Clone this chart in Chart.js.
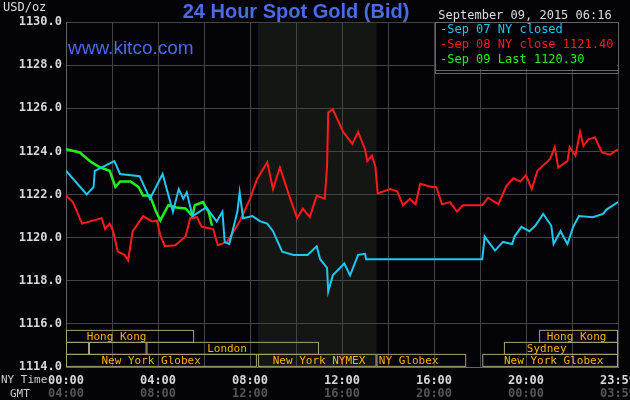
<!DOCTYPE html>
<html>
<head>
<meta charset="utf-8">
<script src="https://cdn.jsdelivr.net/npm/chart.js@4"></script>
<style>
  body { margin: 0; background: #040307; }
  #wrap { width: 630px; height: 400px; }
</style>
</head>
<body>
<div id="wrap"><canvas id="goldChart"></canvas></div>
<script>
// hours after 00:00 NY time, and price
const sep07Hours = [0, 0.9, 1.2, 1.25, 2.1, 2.35, 3.2, 3.65, 4.2, 4.65, 4.9, 5.1, 5.25, 5.5, 6.1, 6.55, 6.8, 6.9, 7.1, 7.45, 7.55, 7.7, 8.1, 8.45, 8.75, 9.0, 9.4, 9.9, 10.5, 10.9, 11.05, 11.35, 11.4, 11.6, 12.1, 12.35, 12.7, 13.0, 13.05, 18.1, 18.2, 18.65, 19.0, 19.4, 19.5, 19.8, 20.15, 20.4, 20.75, 21.1, 21.2, 21.5, 21.8, 22.05, 22.3, 22.9, 23.35, 23.5, 24];
const sep07Values = [1123.1, 1122.0, 1122.35, 1123.1, 1123.55, 1122.95, 1122.85, 1121.8, 1122.95, 1121.2, 1122.25, 1121.8, 1122.1, 1121.0, 1121.4, 1120.75, 1121.2, 1119.8, 1119.7, 1121.2, 1122.1, 1120.9, 1121.0, 1120.75, 1120.65, 1120.3, 1119.35, 1119.2, 1119.2, 1119.6, 1119.0, 1118.6, 1117.5, 1118.25, 1118.8, 1118.25, 1119.2, 1119.25, 1119.0, 1119.0, 1120.05, 1119.4, 1119.8, 1119.7, 1120.05, 1120.5, 1120.3, 1120.55, 1121.1, 1120.55, 1119.7, 1120.3, 1119.7, 1120.5, 1121.0, 1120.95, 1121.1, 1121.3, 1121.65];

const sep08Hours = [0, 0.3, 0.7, 1.2, 1.55, 1.7, 1.9, 2.05, 2.25, 2.55, 2.7, 2.9, 3.35, 3.75, 3.95, 4.1, 4.3, 4.75, 5.2, 5.4, 5.7, 5.9, 6.4, 6.6, 7.0, 7.55, 8.0, 8.3, 8.75, 9.0, 9.3, 9.75, 10.05, 10.3, 10.6, 10.9, 11.25, 11.35, 11.4, 11.6, 12.05, 12.45, 12.7, 13.0, 13.1, 13.3, 13.45, 13.55, 14.1, 14.4, 14.65, 14.95, 15.2, 15.4, 15.9, 16.1, 16.35, 16.7, 17.0, 17.25, 18.1, 18.35, 18.8, 19.15, 19.45, 19.75, 20.0, 20.25, 20.5, 21.05, 21.25, 21.4, 21.8, 21.9, 22.15, 22.35, 22.5, 22.7, 23.0, 23.3, 23.65, 24];
const sep08Values = [1121.95, 1121.65, 1120.65, 1120.8, 1120.9, 1120.4, 1120.65, 1120.3, 1119.35, 1119.2, 1118.95, 1120.3, 1121.0, 1120.75, 1120.8, 1120.1, 1119.6, 1119.65, 1120.05, 1120.9, 1120.95, 1120.5, 1120.4, 1119.65, 1119.8, 1120.75, 1121.8, 1122.7, 1123.5, 1122.25, 1123.25, 1121.8, 1120.9, 1121.35, 1120.95, 1121.95, 1121.8, 1123.3, 1125.8, 1125.95, 1124.9, 1124.35, 1124.9, 1124.1, 1123.55, 1123.8, 1123.3, 1122.05, 1122.25, 1122.15, 1121.5, 1121.8, 1121.55, 1122.5, 1122.35, 1122.35, 1121.55, 1121.65, 1121.2, 1121.5, 1121.5, 1121.85, 1121.55, 1122.4, 1122.75, 1122.6, 1122.9, 1122.25, 1123.1, 1123.65, 1124.2, 1123.25, 1123.55, 1124.2, 1123.8, 1124.9, 1124.25, 1124.55, 1124.65, 1123.95, 1123.85, 1124.1];

const sep09Hours = [0, 0.6, 1.1, 1.5, 1.9, 2.15, 2.35, 2.8, 3.15, 3.35, 3.65, 3.9, 4.1, 4.45, 4.8, 5.2, 5.5, 5.6, 5.95, 6.2, 6.35];
const sep09Values = [1124.1, 1123.95, 1123.5, 1123.25, 1123.1, 1122.35, 1122.6, 1122.6, 1122.35, 1121.95, 1121.95, 1121.25, 1120.8, 1121.5, 1121.4, 1121.35, 1121.0, 1121.5, 1121.65, 1121.2, 1120.55];

const nyLabels = ['00:00', '04:00', '08:00', '12:00', '16:00', '20:00', '23:59'];
const gmtLabels = ['04:00', '08:00', '12:00', '16:00', '20:00', '00:00', '03:59'];
const legendLines = [
  ['Sep 07 NY closed', '#1ec8f0'],
  ['Sep 08 NY close 1121.40', '#ff1a1a'],
  ['Sep 09 Last 1120.30', '#22ee22']
];
// [row, startHour, endHour, label, labelHour, align]
const markets = [
  [0, 0, 5.57, 'Hong Kong', 2.2, 'center'],
  [0, 20.57, 24, 'Hong Kong', 22.2, 'center'],
  [1, 0, 1.0, '', 0, 'center'],
  [1, 1.0, 3.5, '', 0, 'center'],
  [1, 3.5, 11.0, 'London', 7.0, 'center'],
  [1, 19.04, 24, 'Sydney', 20.9, 'center'],
  [2, 0, 8.3, 'New York Globex', 3.7, 'center'],
  [2, 8.35, 13.5, 'New York NYMEX', 11.0, 'center'],
  [2, 13.5, 17.4, 'NY Globex', 13.6, 'left'],
  [2, 18.1, 24, 'New York Globex', 21.2, 'center']
];
const nymexShade = [8.35, 13.5];

const mono = '"DejaVu Sans Mono", monospace';
const toPts = (hs, vs) => hs.map((h, i) => ({ x: h, y: vs[i] }));

const backdrop = {
  id: 'backdrop',
  beforeDraw(c) {
    const { ctx, chartArea: a, scales: { x } } = c;
    ctx.save();
    ctx.fillStyle = '#040307';
    ctx.fillRect(0, 0, c.width, c.height);
    ctx.fillStyle = '#141614';
    ctx.fillRect(x.getPixelForValue(nymexShade[0]), a.top, x.getPixelForValue(nymexShade[1]) - x.getPixelForValue(nymexShade[0]), a.bottom - a.top);
    ctx.restore();
  },
  afterDatasetsDraw(c) {
    const { ctx, chartArea: a, scales: { x, y } } = c;
    ctx.save();
    // market sessions
    const top = y.getPixelForValue(1116) + 6;
    const rowH = 12;
    ctx.font = '11px ' + mono;
    ctx.textBaseline = 'middle';
    markets.forEach(m => {
      const x0 = x.getPixelForValue(m[1]), x1 = x.getPixelForValue(m[2]);
      const yy = top + m[0] * rowH;
      ctx.strokeStyle = '#a8a078';
      ctx.lineWidth = 1;
      ctx.strokeRect(x0 + 0.5, yy + 0.5, x1 - x0 - 1, rowH);
      if (m[3]) {
        ctx.fillStyle = '#f5b400';
        ctx.textAlign = m[5];
        ctx.fillText(m[3], x.getPixelForValue(m[4]), yy + rowH / 2 + 1);
      }
    });
    // legend box
    ctx.fillStyle = '#040307';
    ctx.fillRect(436, a.top + 1, a.right - 437, 46);
    ctx.strokeStyle = '#666';
    ctx.strokeRect(435.5, a.top + 0.5, a.right - 435, 51);
    ctx.beginPath();
    ctx.moveTo(436, a.top + 48.5);
    ctx.lineTo(a.right, a.top + 48.5);
    ctx.stroke();
    ctx.font = '12px ' + mono;
    ctx.textAlign = 'left';
    legendLines.forEach((l, i) => {
      ctx.fillStyle = l[1];
      ctx.fillText('-' + l[0], 440, a.top + 8 + i * 15);
    });
    // kitco
    ctx.font = '19px Arial, "Liberation Sans", sans-serif';
    ctx.fillStyle = '#4a6ae6';
    ctx.fillText('www.kitco.com', 68, 49);
    ctx.restore();
  },
  afterDraw(c) {
    const { ctx, scales: { x } } = c;
    ctx.save();
    ctx.font = 'bold 20px Arial, "Liberation Sans", sans-serif';
    ctx.fillStyle = '#4a6ae6';
    ctx.textAlign = 'center';
    ctx.textBaseline = 'middle';
    ctx.fillText('24 Hour Spot Gold (Bid)', 296, 12);
    ctx.font = '12px ' + mono;
    ctx.fillStyle = '#dddddd';
    ctx.fillText('September 09, 2015 06:16', 525, 16);
    ctx.textAlign = 'left';
    ctx.fillText('USD/oz', 3, 8);
    ctx.font = '11px ' + mono;
    ctx.fillStyle = '#cccccc';
    ctx.fillText('NY Time', 1, 380);
    ctx.fillText('GMT', 10, 394);
    ctx.font = 'bold 12px ' + mono;
    ctx.fillStyle = '#555555';
    ctx.textAlign = 'center';
    gmtLabels.forEach((g, i) => ctx.fillText(g, x.getPixelForValue(Math.min(i * 4, 24)), 394));
    ctx.restore();
  }
};

new Chart(document.getElementById('goldChart'), {
  type: 'line',
  data: {
    datasets: [
      { data: toPts(sep07Hours, sep07Values), borderColor: '#1ec8f0', borderWidth: 2 },
      { data: toPts(sep08Hours, sep08Values), borderColor: '#ff1a1a', borderWidth: 2 },
      { data: toPts(sep09Hours, sep09Values), borderColor: '#22ee22', borderWidth: 2.5 }
    ]
  },
  options: {
    responsive: true,
    maintainAspectRatio: false,
    animation: false,
    events: [],
    elements: { point: { radius: 0 }, line: { tension: 0 } },
    layout: { padding: { top: 22, right: 12, left: 0, bottom: 0 } },
    plugins: { legend: { display: false }, tooltip: { enabled: false } },
    scales: {
      x: {
        type: 'linear', min: 0, max: 24,
        afterFit: s => { s.height = 33; s.paddingLeft = 0; s.paddingRight = 0; },
        afterBuildTicks: s => { s.ticks = [0, 2, 4, 6, 8, 10, 12, 14, 16, 18, 20, 22, 24].map(v => ({ value: v })); },
        grid: { color: '#444', drawTicks: false },
        border: { color: '#666' },
        ticks: {
          autoSkip: false, maxRotation: 0, padding: 7,
          color: '#d8d8d8', font: { family: mono, size: 12, weight: 'bold' },
          callback: v => (v % 4 === 0 ? nyLabels[v / 4] : (v === 24 ? nyLabels[6] : ''))
        }
      },
      y: {
        min: 1114, max: 1130,
        afterFit: s => { s.width = 66; },
        grid: { color: '#444', drawTicks: false },
        border: { color: '#666' },
        ticks: {
          stepSize: 2, padding: 4,
          color: '#d8d8d8', font: { family: mono, size: 12, weight: 'bold' },
          callback: v => v.toFixed(1)
        }
      }
    }
  },
  plugins: [backdrop]
});
</script>
</body>
</html>
